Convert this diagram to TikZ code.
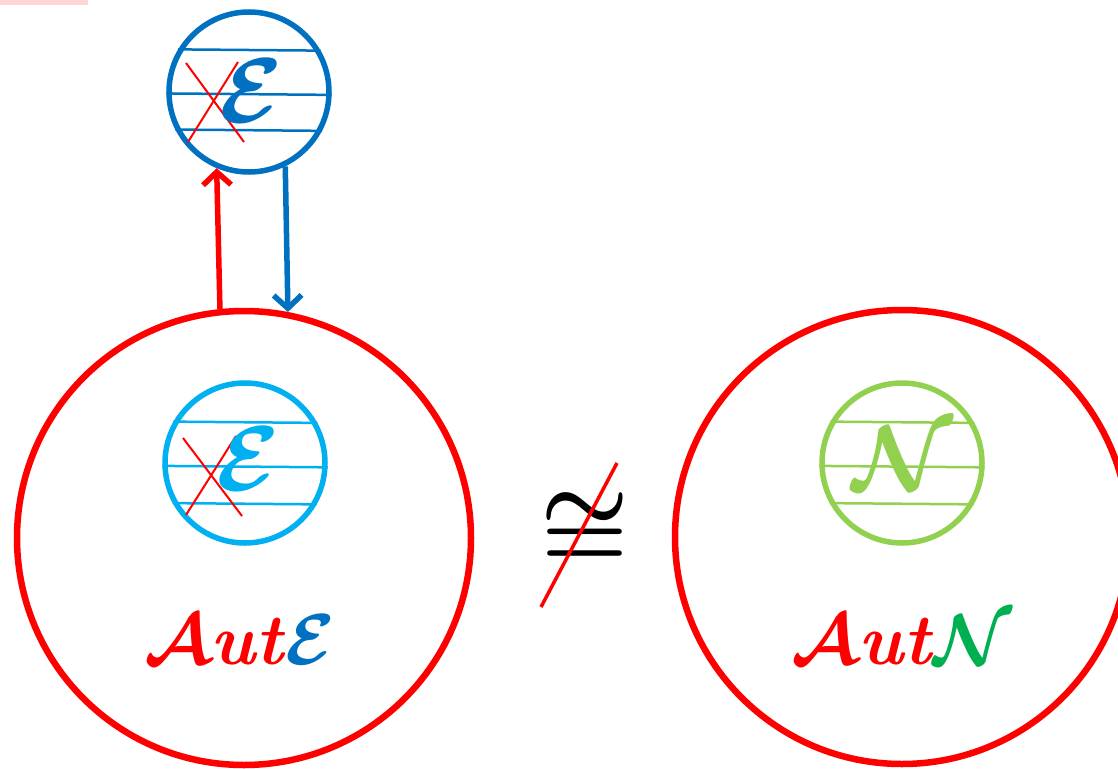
\documentclass[tikz,border=0pt]{standalone}
\usepackage{amsmath,amssymb}
\usepackage{tikz}
\usepackage{xcolor}
\usetikzlibrary{arrows.meta}
\definecolor{cRed}{HTML}{FF0000}
\definecolor{cBlue}{HTML}{0070C0}
\definecolor{cCyan}{HTML}{00B0F0}
\definecolor{cLime}{HTML}{92D050}
\definecolor{cGreen}{HTML}{00B050}
\definecolor{cPink}{HTML}{FFD5D8}
\tikzset{
  ring/.style    ={circle,draw,inner sep=0pt},
  bigring/.style ={ring,draw=cRed,line width=6.5pt,minimum size=454pt},
  subring/.style ={ring,line width=5.5pt,minimum size=160pt},
  chord/.style   ={line width=2.5pt},
  xline/.style   ={cRed,line width=2pt},
  ar/.style      ={-{Straight Barb[length=13pt,width=28pt]},line width=5.5pt},
  glyph/.style   ={inner sep=0pt,font=\Huge,scale=3.7},
  word/.style    ={inner sep=0pt,font=\Huge,scale=2.9},
}
\begin{document}
\begin{tikzpicture}[x=1pt,y=-1pt]
\useasboundingbox (0,0) rectangle (1118,768);
\fill[cPink] (0,0) rectangle (88,5);

% the two big rings
\node[bigring] (autE) at (244,538) {};
\node[bigring] (autN) at (902,537) {};

% small rings with their lines
\node[subring,draw=cBlue] (top) at (249,92) {};
\node[subring,draw=cCyan] (inE) at (245,463) {};
\node[subring,draw=cLime] (inN) at (902,463) {};
\foreach \a/\b in {30.8/149.2,358.6/181.4,332.4/207.6}
  \draw[chord,cBlue] (top.\b) -- (top.\a);
\foreach \r/\c in {inE/cCyan,inN/cLime}
  \foreach \a/\b in {29.2/150.8,357.9/182.1,330.8/209.2}
    \draw[chord,\c] (\r.\b) -- (\r.\a);

% crossed-out parts
\draw[xline] ([shift={(-63,-29)}]top.center) -- ([shift={(-5,50)}]top.center);
\draw[xline] ([shift={(-11,-30)}]top.center) -- ([shift={(-61,50)}]top.center);
\draw[xline] ([shift={(-62,-25)}]inE.center) -- ([shift={(-3,53)}]inE.center);
\draw[xline] ([shift={(-9,-27)}]inE.center) -- ([shift={(-59,52)}]inE.center);

% letters
\node[glyph,text=cBlue] (eTop) at (251,91) {$\boldsymbol{\mathcal{E}}$};
\node[glyph,text=cCyan] (eIn) at (248,459) {$\boldsymbol{\mathcal{E}}$};
\node[glyph,text=cLime] (nIn) at (903,458) {$\boldsymbol{\mathcal{N}}$};

\node[word] (lblE) at (240,640)
  {\color{cRed}$\boldsymbol{\mathcal{A}}$\textbf{\textit{ut}}\color{cBlue}$\boldsymbol{\mathcal{E}}$};
\node[word] (lblN) at (902,640)
  {\color{cRed}$\boldsymbol{\mathcal{A}}$\textbf{\textit{ut}}\color{cGreen}$\boldsymbol{\mathcal{N}}$};

% not isomorphic
\node[inner sep=0pt,font=\Huge,scale=4.0] (ncong) at (585,530) {$\boldsymbol{\cong}$};
\draw[cRed,line width=3.5pt] ([shift={(32,-67)}]ncong.center) -- ([shift={(-44,77)}]ncong.center);

% arrows between the rings
\draw[ar,cRed] (autE.96.5) -- (top.247.8);
\draw[ar,cBlue] (top.296.8) -- (autE.79.4);
\end{tikzpicture}
\end{document}
